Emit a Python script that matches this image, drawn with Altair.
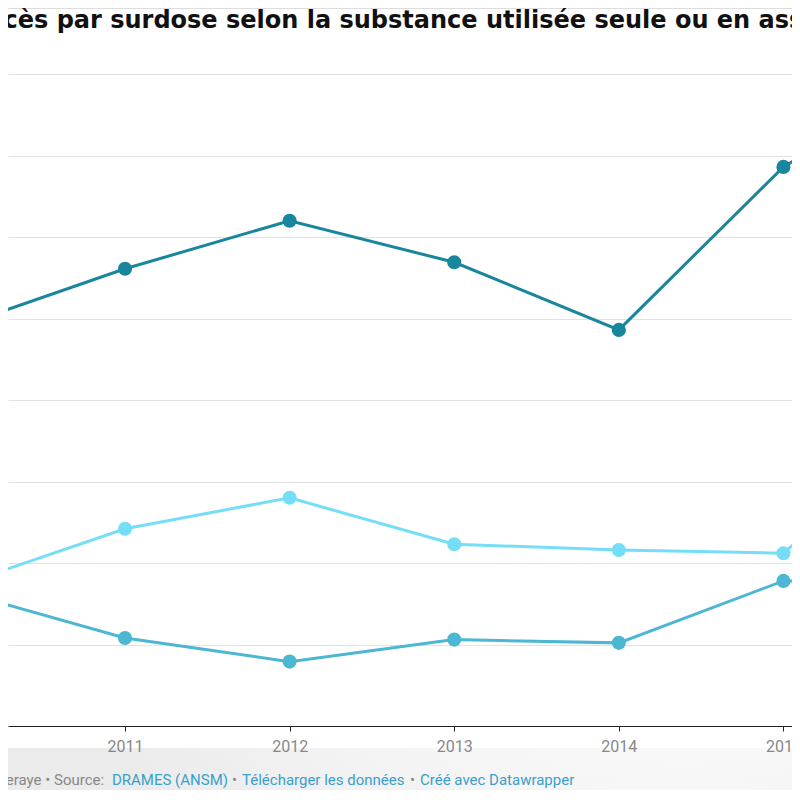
import altair as alt
import pandas as pd

# ---- data ----
YEARS = [2010, 2011, 2012, 2013, 2014, 2015, 2016]
NAMES = ["Méthadone", "Héroïne", "Buprénorphine"]
SERIES_A = [49.1, 56.1, 62.0, 56.9, 48.6, 68.6, 81.0]
SERIES_B = [17.3, 24.2, 28.0, 22.3, 21.6, 21.2, 39.0]
SERIES_C = [16.5, 10.8, 7.9, 10.6, 10.2, 17.8, 17.8]
COLORS = ["#18869c", "#74def8", "#4bb7d3"]
TICKS = [2011, 2012, 2013, 2014, 2015]
GRID = [0, 10, 20, 30, 40, 50, 60, 70, 80]
TITLE = "Nombre de décès par surdose selon la substance utilisée seule ou en association"
FOOT_GREY = ["seraye • Source:", "•", "•"]
FOOT_LINKS = ["DRAMES (ANSM)", "Télécharger les données", "Créé avec Datawrapper"]

rows = []
for name, vals in zip(NAMES, [SERIES_A, SERIES_B, SERIES_C]):
    for yr, v in zip(YEARS, vals):
        rows.append({"annee": yr, "valeur": v, "serie": name})
df = pd.DataFrame(rows)

W, H = 784, 652
XDOM = [2010.289, 2015.052]

color = alt.Color("serie:N", scale=alt.Scale(domain=NAMES, range=COLORS), legend=None)
xenc = alt.X("annee:Q", scale=alt.Scale(domain=XDOM, nice=False, zero=False),
             axis=alt.Axis(values=TICKS, format="d", title=None, grid=False,
                           domainColor="#222", domainWidth=1, tickColor="#222",
                           tickSize=5, labelPadding=7, labelFont="Roboto",
                           labelFontSize=16, labelColor="#888888", zindex=1))
yenc = alt.Y("valeur:Q", scale=alt.Scale(domain=[0, 80], nice=False),
             axis=alt.Axis(values=GRID, title=None, labels=False, ticks=False,
                           domain=False, grid=True, gridColor="#e2e2e2", gridWidth=1))

base = alt.Chart(df)
lines = base.mark_line(strokeWidth=3, clip=True).encode(x=xenc, y=yenc, color=color)
points = base.mark_circle(size=200, opacity=1, clip=True).encode(x="annee:Q", y="valeur:Q", color=color)

one = pd.DataFrame({"k": [0]})

bg = alt.Chart(one).mark_rect(color={
    "gradient": "radial",
    "x1": 0.85, "y1": 0.0, "x2": 0.85, "y2": 0.0, "r1": 0, "r2": 0.85,
    "stops": [{"offset": 0, "color": "#ffffff"}, {"offset": 0.45, "color": "#fbfbfb"},
              {"offset": 1, "color": "#ebebeb"}]}).encode(
    x=alt.value(-10), x2=alt.value(W + 10), y=alt.value(674), y2=alt.value(730))

topline = alt.Chart(one).mark_rule(color="#dddddd", strokeWidth=1).encode(
    x=alt.value(-10), x2=alt.value(W + 10), y=alt.value(-65.5))

title = alt.Chart(pd.DataFrame({"t": [TITLE]})).mark_text(
    font="DejaVu Sans", fontSize=24, fontWeight="bold", color="#111111",
    align="left", baseline="alphabetic").encode(
    text="t:N", x=alt.value(-195), y=alt.value(-46))

def ftext(txt, x, col):
    return alt.Chart(pd.DataFrame({"t": [txt]})).mark_text(
        font="Roboto", fontSize=15, color=col, align="left",
        baseline="alphabetic").encode(text="t:N", x=alt.value(x), y=alt.value(711))

GREY = "#888888"
BLUE = "#3a9fc9"
footer = [
    ftext(FOOT_GREY[0], -10, GREY),
    ftext(FOOT_LINKS[0], 104, BLUE),
    ftext(FOOT_GREY[1], 224, GREY),
    ftext(FOOT_LINKS[1], 234, BLUE),
    ftext(FOOT_GREY[2], 402, GREY),
    ftext(FOOT_LINKS[2], 412, BLUE),
]

chart = alt.layer(bg, topline, lines, points, title, *footer).properties(
    width=W, height=H,
    autosize=alt.AutoSizeParams(type="none"),
    padding={"left": 0, "top": 66, "right": 0, "bottom": 64},
    background="#ffffff",
).configure_view(stroke=None)

chart.save("out.html", embed_options={"renderer": "svg", "actions": False})
